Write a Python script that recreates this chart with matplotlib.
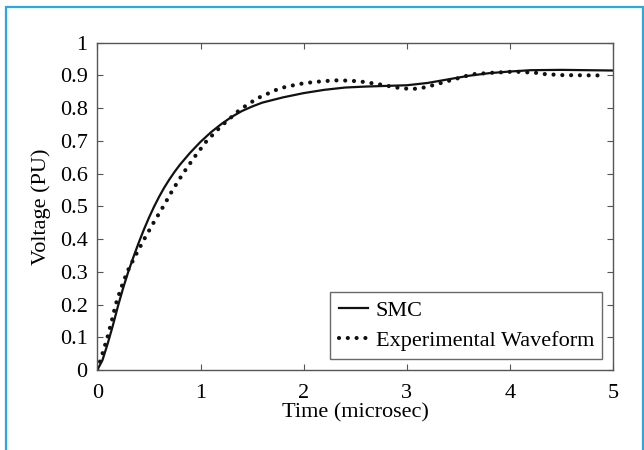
import matplotlib
matplotlib.use("Agg")
import matplotlib.pyplot as plt
from matplotlib.patches import Rectangle

# SMC model response
smc_t = [0, 0.05, 0.1, 0.15, 0.2, 0.25, 0.3, 0.35, 0.4, 0.45, 0.5, 0.55, 0.6, 0.65,
         0.7, 0.75, 0.8, 0.9, 1.0, 1.1, 1.2, 1.3, 1.4, 1.5, 1.6, 1.8, 2.0, 2.2, 2.4,
         2.6, 2.8, 3.0, 3.2, 3.4, 3.6, 3.8, 4.0, 4.2, 4.5, 5.0]
smc_v = [0, 0.03, 0.08, 0.135, 0.195, 0.25, 0.30, 0.345, 0.388, 0.428, 0.465, 0.499,
         0.530, 0.558, 0.583, 0.606, 0.627, 0.664, 0.697, 0.726, 0.751, 0.773, 0.791,
         0.805, 0.817, 0.833, 0.846, 0.856, 0.863, 0.866, 0.868, 0.870, 0.877, 0.888,
         0.899, 0.907, 0.912, 0.916, 0.917, 0.915]

# experimental waveform
exp_t = [0, 0.05, 0.1, 0.14, 0.178, 0.23, 0.29, 0.37, 0.455, 0.545, 0.64, 0.73, 0.83,
         0.94, 1.06, 1.2, 1.38, 1.55, 1.77, 1.96, 2.1, 2.3, 2.45, 2.56, 2.73, 2.9,
         2.98, 3.07, 3.15, 3.24, 3.4, 3.57, 3.65, 3.82, 4.0, 4.08, 4.25, 4.34, 4.5,
         4.85]
exp_v = [0, 0.05, 0.102, 0.15, 0.20, 0.25, 0.30, 0.35, 0.40, 0.45, 0.50, 0.55, 0.60,
         0.65, 0.70, 0.745, 0.795, 0.83, 0.861, 0.874, 0.880, 0.885, 0.884, 0.881,
         0.873, 0.863, 0.860, 0.859, 0.862, 0.869, 0.883, 0.898, 0.904, 0.908, 0.911,
         0.911, 0.908, 0.904, 0.901, 0.900]

xticks = [0, 1, 2, 3, 4, 5]
yticks = [0, 0.1, 0.2, 0.3, 0.4, 0.5, 0.6, 0.7, 0.8, 0.9, 1]
ytick_labels = ["0", "0.1", "0.2", "0.3", "0.4", "0.5", "0.6", "0.7", "0.8", "0.9", "1"]

plt.rcParams['font.family'] = ['Liberation Serif', 'DejaVu Serif']
plt.rcParams['font.size'] = 16

fig = plt.figure(figsize=(6.44, 4.5), dpi=100)
ax = fig.add_axes([0.1511, 0.1778, 0.8012, 0.7273])

ax.plot(smc_t, smc_v, color='#111111', lw=1.6, label='SMC')
ax.plot(exp_t, exp_v, color='#111111', lw=3.0, linestyle=(0, (0.01, 2.1)),
        dash_capstyle='round', label='Experimental Waveform')

ax.set_xlim(0, 5)
ax.set_ylim(0, 1)
ax.set_xticks(xticks)
ax.set_yticks(yticks)
ax.set_yticklabels(ytick_labels)
ax.tick_params(direction='in', top=True, right=True, length=4, width=0.8,
               color='#555555', labelsize=16)
ax.tick_params(axis='x', pad=10)
ax.tick_params(axis='y', pad=7)
for sp in ax.spines.values():
    sp.set_color('#555555')
    sp.set_linewidth(1.0)

ax.set_xlabel('Time (microsec)', fontsize=16, labelpad=0)
ax.set_ylabel('Voltage (PU)', fontsize=16, labelpad=6)

leg = ax.legend(loc='lower right', bbox_to_anchor=(0.9789, 0.0336), fontsize=16,
                frameon=True, fancybox=False, handlelength=1.3, handletextpad=0.35,
                borderpad=0.38, labelspacing=0.4, borderaxespad=0)
leg.get_frame().set_edgecolor('#444444')
leg.get_frame().set_linewidth(1.0)

# light blue frame around the figure
fig.patches.append(Rectangle((6 / 644, -0.1), (642.5 - 6) / 644, 1.1 - 6.5 / 450,
                             transform=fig.transFigure, fill=False,
                             edgecolor='#2aa9e0', linewidth=1.6, clip_on=False))

fig.savefig('out.png', dpi=100)
